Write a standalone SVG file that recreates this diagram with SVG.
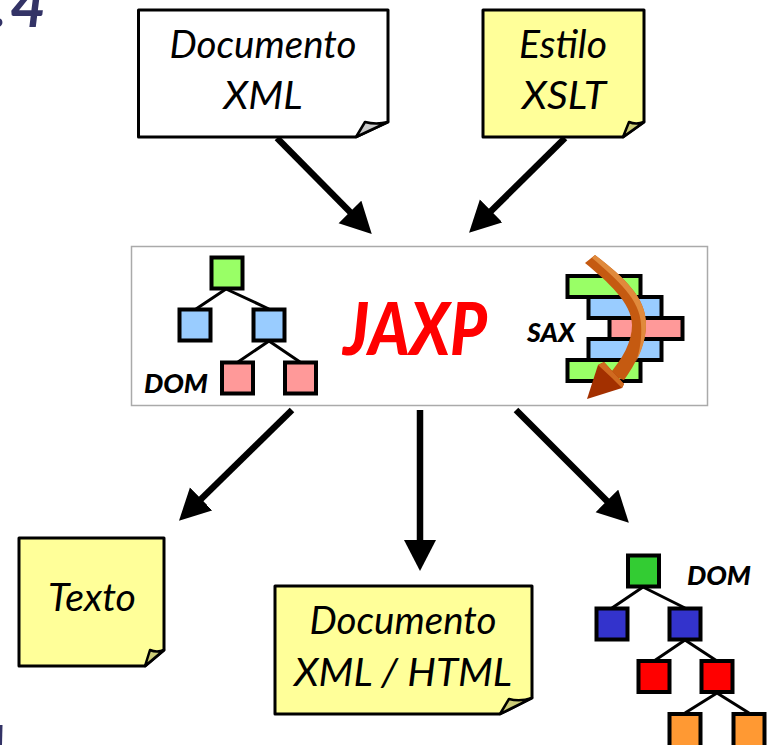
<svg xmlns="http://www.w3.org/2000/svg" width="770" height="745" viewBox="0 0 770 745">
<style>
text{font-family:"Lato","Open Sans","Liberation Sans",sans-serif;font-style:italic}
.doc{stroke:#000;stroke-width:3;stroke-linejoin:round}
.wh{fill:#fff}.ye{fill:#ffff99}
.fold{stroke:#000;stroke-width:2.5;stroke-linejoin:round;fill:#cccccc}
.foldy{fill:#cccc77}
.lbl{font-size:39px;text-anchor:middle;fill:#000}
.tag{font-size:26px;font-weight:900;fill:#000}
.n{stroke:#000;stroke-width:4}
.e{stroke:#000;stroke-width:3;fill:none}
.arrow{stroke:#000;stroke-width:6.5;fill:none}
.g1{fill:#99ff66}.b1{fill:#99ccff}.p1{fill:#ff9999}
.g2{fill:#33cc33}.b2{fill:#3333cc}.r2{fill:#ff0000}.o2{fill:#ff9933}
</style>
<defs>
<marker id="head" markerUnits="userSpaceOnUse" markerWidth="32" markerHeight="34" refX="10" refY="16" orient="auto">
<path d="M0,0 L31,16 L0,32 z" fill="#000"/>
</marker>
</defs>
<text x="-8" y="27" font-size="62" font-weight="700" fill="#333366">.<tspan x="10">4</tspan></text>
<path d="M0,725 L2.500,725 L2,745 L0,745 z" fill="#333366"/>
<g id="connectors">
<line class="arrow" x1="277" y1="138" x2="357" y2="219" marker-end="url(#head)"/>
<line class="arrow" x1="565" y1="138" x2="484" y2="218" marker-end="url(#head)"/>
<line class="arrow" x1="292" y1="410" x2="194" y2="506" marker-end="url(#head)"/>
<line class="arrow" x1="420" y1="410" x2="420" y2="550" marker-end="url(#head)"/>
<line class="arrow" x1="516" y1="410" x2="614" y2="508" marker-end="url(#head)"/>
</g>
<g id="doc-xml">
<path class="doc wh" d="M138.500,10 H388 V122 L356,137 H138.500 z"/>
<path class="fold" d="M356,137 L365,122 Q376,125 388,122 z"/>
<text class="lbl" x="263" y="58" textLength="187" lengthAdjust="spacingAndGlyphs">Documento</text>
<text class="lbl" x="263" y="109" textLength="79" lengthAdjust="spacingAndGlyphs">XML</text>
</g>
<g id="estilo-xslt">
<path class="doc ye" d="M483,10 H644 V122 L623,137 H483 z"/>
<path class="fold foldy" d="M623,137 L629,122 Q636,125 644,122 z"/>
<text class="lbl" x="563" y="58" textLength="88" lengthAdjust="spacingAndGlyphs">Estilo</text>
<text class="lbl" x="564" y="109" textLength="84" lengthAdjust="spacingAndGlyphs">XSLT</text>
</g>
<g id="jaxp">
<rect x="131.500" y="246.500" width="576" height="159" fill="#fff" stroke="#aaaaaa" stroke-width="1.500"/>
<text x="343" y="355" font-size="72" font-weight="900" fill="#ff0000" textLength="144" lengthAdjust="spacingAndGlyphs">JAXP</text>
</g>
<g id="dom-tree">
<path class="e" d="M226,289 L196,309 M226,289 L269,309 M269,341 L238,362 M269,341 L300,362"/>
<rect class="n g1" x="211.500" y="257.500" width="31" height="31"/>
<rect class="n b1" x="179.500" y="309.500" width="31" height="31"/>
<rect class="n b1" x="253.500" y="309.500" width="31" height="31"/>
<rect class="n p1" x="222" y="362.500" width="31" height="31"/>
<rect class="n p1" x="285" y="362.500" width="31" height="31"/>
<text class="tag" x="144" y="393" textLength="64" lengthAdjust="spacingAndGlyphs">DOM</text>
</g>
<g id="sax">
<rect class="n g1" x="567.500" y="276" width="73" height="21"/>
<rect class="n b1" x="588.500" y="297" width="73" height="21"/>
<rect class="n p1" x="609.500" y="318" width="73" height="21"/>
<rect class="n b1" x="588.500" y="339" width="73" height="21"/>
<rect class="n g1" x="567.500" y="360" width="73" height="21"/>
<text class="tag" x="527" y="342" textLength="48" lengthAdjust="spacingAndGlyphs">SAX</text>
<path d="M585,263 L595,255 C625,278 646,298 646,324 C646,345 635,365 624,380 L618,378 L608,376 C623,358 632,342 632,325 C632,303 608,282 585,263 z" fill="#c55a11"/>
<path d="M595,255 C625,278 646,298 646,324 C646,338 642,350 636,362 C640,350 642,338 641,324 C640,300 618,280 592,258 z" fill="#e08a3c"/>
<path d="M587,399 L598,365 L604,362 L624,384 L622,388 z" fill="#a33000"/>
<path d="M598,365 L604,362 L624,384 L622,388 L612,378 z" fill="#d06a20"/>
</g>
<g id="texto">
<path class="doc ye" d="M19,538 H164 V650 L145,666 H19 z"/>
<path class="fold foldy" d="M145,666 L150,650 Q157,653 164,650 z"/>
<text class="lbl" x="92" y="611" textLength="88" lengthAdjust="spacingAndGlyphs">Texto</text>
</g>
<g id="doc-xml-html">
<path class="doc ye" d="M275,586 H532 V698 L500,714 H275 z"/>
<path class="fold foldy" d="M500,714 L509,699 Q520,702 532,698 z"/>
<text class="lbl" x="403" y="634" textLength="187" lengthAdjust="spacingAndGlyphs">Documento</text>
<text class="lbl" x="403" y="686" textLength="218" lengthAdjust="spacingAndGlyphs">XML / HTML</text>
</g>
<g id="dom-result">
<path class="e" d="M643,587 L612,608 M643,587 L685,608 M685,640 L654,661 M685,640 L717,661 M717,693 L685,713 M717,693 L749,713"/>
<rect class="n g2" x="628" y="555.500" width="31" height="31"/>
<rect class="n b2" x="596.500" y="608.500" width="31" height="31"/>
<rect class="n b2" x="669.500" y="608.500" width="31" height="31"/>
<rect class="n r2" x="638.500" y="661" width="31" height="31"/>
<rect class="n r2" x="701.500" y="661" width="31" height="31"/>
<rect class="n o2" x="669.500" y="714" width="31" height="35"/>
<rect class="n o2" x="733.500" y="714" width="31" height="35"/>
<text class="tag" x="687" y="585" textLength="64" lengthAdjust="spacingAndGlyphs">DOM</text>
</g>
</svg>
